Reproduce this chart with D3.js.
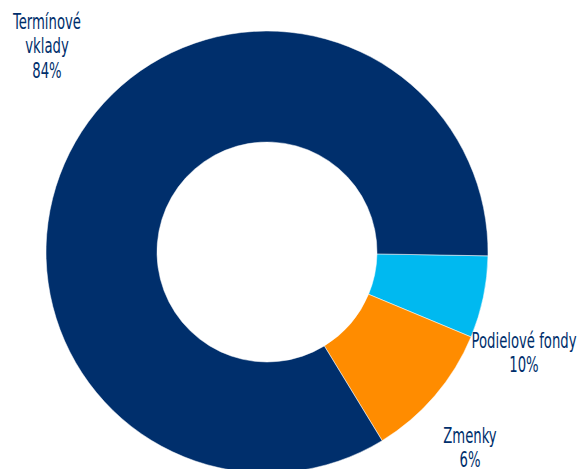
<!DOCTYPE html>
<html>
<head>
<meta charset="utf-8">
<script src="https://cdn.jsdelivr.net/npm/d3@7"></script>
<style>
  html, body { margin: 0; padding: 0; background: #fff; }
  text { font-family: 'DejaVu Sans Condensed', 'DejaVu Sans', sans-serif; }
</style>
</head>
<body>
<script>
// Chart settings
const width = 581
const height = 469
const cx = 267
const cy = 252
const outerRadius = 221
const innerRadius = 110

// Data (clockwise from the slice just below 3 o'clock)
const categories = ['Zmenky', 'Podielové fondy', 'Termínové vklady']
const values = [6, 10, 84]
const colors = ['#00b9f0', '#ff8c00', '#002f6c']

// Label lines and where each label block sits
const labelLines = [['Zmenky', '6%'], ['Podielové fondy', '10%'], ['Termínové', 'vklady', '84%']]
const labelPos = [[470, 443], [524, 348], [47, 29]]

const textColor = '#002f6c'
const fontSize = 21
const lineHeight = 24.5
// the reference font is condensed; "Podielové fondy" is about 105px wide
const refWidth = 105

const svg = d3.select('body')
  .append('svg')
  .attr('width', width)
  .attr('height', height)

const startAngle = Math.PI / 2 + Math.PI / 180

const pie = d3.pie()
  .sort(null)
  .value(d => d)
  .startAngle(startAngle)
  .endAngle(startAngle + 2 * Math.PI)

const arc = d3.arc()
  .innerRadius(innerRadius)
  .outerRadius(outerRadius)

// Add slices
svg.append('g')
  .attr('transform', `translate(${cx}, ${cy})`)
  .selectAll('path')
  .data(pie(values))
  .enter()
  .append('path')
  .attr('d', arc)
  .attr('fill', (d, i) => colors[i])
  .attr('stroke', '#fff')
  .attr('stroke-width', 0.5)

// Measure how much to squeeze the fallback font
const probe = svg.append('text')
  .style('font-size', fontSize + 'px')
  .text('Podielové fondy')
const squeeze = refWidth / probe.node().getComputedTextLength()
probe.remove()

// Add labels
const labels = svg.selectAll('.label')
  .data(categories)
  .enter()
  .append('g')
  .attr('class', 'label')
  .attr('transform', (d, i) => `translate(${labelPos[i][0]}, ${labelPos[i][1]}) scale(${squeeze}, 1)`)
  .append('text')
  .attr('fill', textColor)
  .style('font-size', fontSize + 'px')
  .style('text-anchor', 'middle')

labels.selectAll('tspan')
  .data((d, i) => labelLines[i])
  .enter()
  .append('tspan')
  .attr('x', 0)
  .attr('y', (d, j) => j * lineHeight)
  .text(d => d)
</script>
</body>
</html>
